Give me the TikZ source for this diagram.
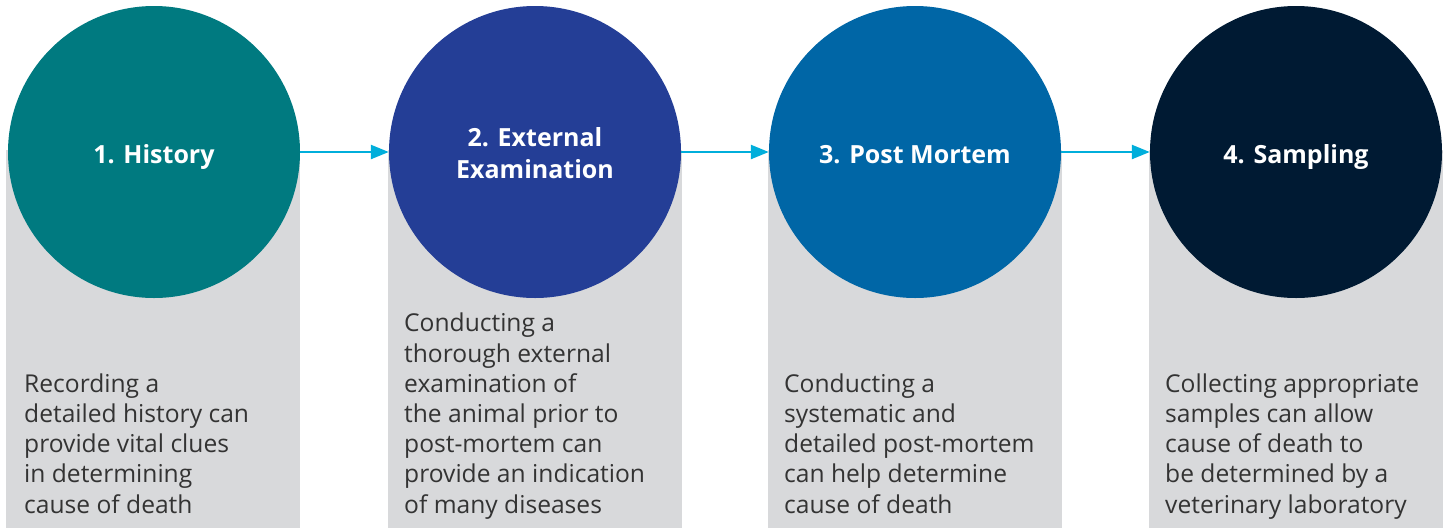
\documentclass[tikz,border=0pt]{standalone}
\usepackage{fontspec}
\setmainfont{Open Sans}
\usetikzlibrary{arrows.meta}
\definecolor{cteal}{HTML}{007A80}
\definecolor{cblue}{HTML}{243E96}
\definecolor{cmid}{HTML}{0066A6}
\definecolor{cnavy}{HTML}{001A33}
\definecolor{cgrey}{HTML}{D8D9DB}
\definecolor{ccyan}{HTML}{00AEDB}
\definecolor{ctext}{HTML}{333333}
\tikzset{
  greybox/.style={fill=cgrey, draw=none, anchor=north west, minimum width=294pt, minimum height=378pt, inner sep=0pt},
  stepcircle/.style={circle, draw=none, minimum size=292pt, inner sep=0pt},
  headtext/.style={text=white, align=center, inner sep=0pt, anchor=base,
    font=\fontsize{25}{32}\selectfont\bfseries},
  bodytext/.style={anchor=base west, align=left, inner sep=0pt, text=ctext,
    font=\fontsize{24.6}{30.2}\selectfont},
  flow/.style={draw=ccyan, line width=2.4pt, -{Triangle[length=18pt,width=14pt]}}
}
\begin{document}
\begin{tikzpicture}[x=1pt,y=-1pt]
\useasboundingbox (0,0) rectangle (1446,528);
\node[greybox] (r1) at (6,150) {};
\node[greybox] (r2) at (388,150) {};
\node[greybox] (r3) at (768,150) {};
\node[greybox] (r4) at (1149,150) {};
\node[stepcircle, fill=cteal] (c1) at (154,152) {};
\node[stepcircle, fill=cblue] (c2) at (535,152) {};
\node[stepcircle, fill=cmid] (c3) at (915,152) {};
\node[stepcircle, fill=cnavy] (c4) at (1296,152) {};
\node[headtext] (h1) at (154,163) {1. History};
\node[headtext] (h2) at (535,178) {2. External\\Examination};
\node[headtext] (h3) at (915,163) {3. Post Mortem};
\node[headtext] (h4) at (1296,163) {4. Sampling};
\draw[flow] (c1.east) -- (c2.west);
\draw[flow] (c2.east) -- (c3.west);
\draw[flow] (c3.east) -- (c4.west);
\node[bodytext] (t1) at (24,513) {Recording a\\detailed history can\\provide vital clues\\in determining\\cause of death};
\node[bodytext] (t2) at (404,513) {Conducting a\\thorough external\\examination of\\the animal prior to\\post-mortem can\\provide an indication\\of many diseases};
\node[bodytext] (t3) at (784,513) {Conducting a\\systematic and\\detailed post-mortem\\can help determine\\cause of death};
\node[bodytext] (t4) at (1165,513) {Collecting appropriate\\samples can allow\\cause of death to\\be determined by a\\veterinary laboratory};
\end{tikzpicture}
\end{document}
